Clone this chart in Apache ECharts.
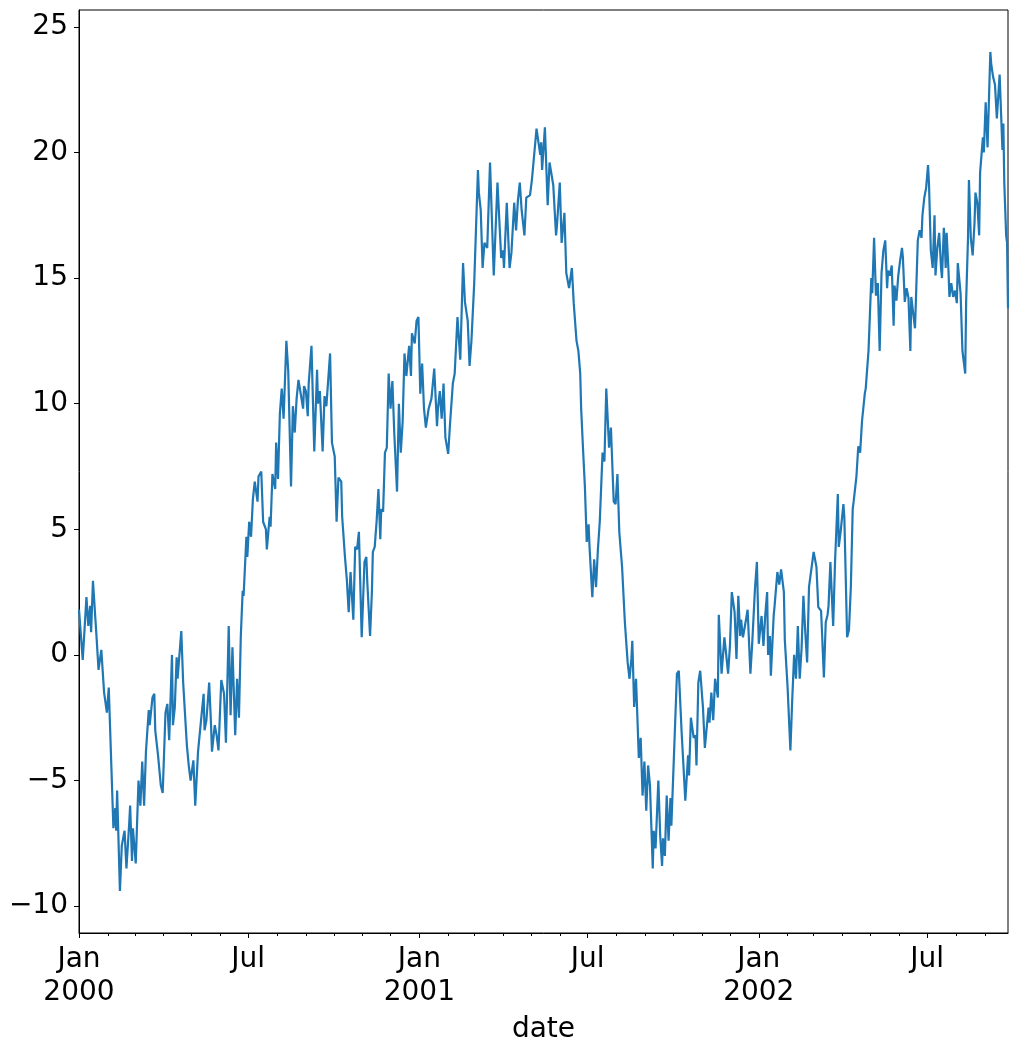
<!DOCTYPE html>
<html>
<head>
<meta charset="utf-8">
<title>random walk</title>
<script src="https://cdn.jsdelivr.net/npm/echarts@6/dist/echarts.min.js"></script>
<style>
  html, body { margin: 0; padding: 0; background: #fff; }
  #chart { width: 1018px; height: 1053px; }
</style>
</head>
<body>
<div id="chart"></div>
<script>
// Days since 2000-01-01 and the value at that day
var days = [
  0,4,8,10,12,13,15,19,21,24,27,30,32,37,39,40,41,44,46,49,51,54,55,57,58,61,
  64,66,68,70,72,75,76,79,81,82,85,88,90,93,95,97,100,101,103,105,106,110,112,116,118,120,123,125,128,131,
  134,135,137,140,142,143,146,148,150,153,156,158,161,163,165,168,170,172,174,176,177,180,181,183,185,187,189,192,193,196,198,
  201,202,205,206,208,211,212,214,216,218,220,223,225,228,230,232,234,236,238,241,242,244,246,247,250,253,256,257,259,262,264,266,
  270,272,275,277,279,282,283,286,288,290,292,295,297,299,301,304,307,309,310,313,315,316,318,320,322,324,325,327,329,331,
  333,335,337,339,342,344,346,348,350,352,355,357,358,361,363,365,367,369,371,373,376,379,382,385,386,388,390,392,394,397,399,
  402,404,407,410,413,415,418,420,422,425,429,430,432,434,436,439,442,446,450,454,456,457,460,463,465,468,470,472,
  474,476,479,481,485,487,488,492,496,497,498,501,504,506,510,513,514,517,519,522,524,527,530,532,535,537,539,540,542,544,546,
  548,549,552,554,556,558,560,563,565,567,570,572,575,577,579,581,584,587,590,592,594,595,597,599,602,604,606,608,610,612,
  614,617,618,620,623,625,627,628,630,632,634,636,637,639,643,645,648,650,652,655,656,658,661,663,664,666,668,671,673,675,677,678,680,682,
  684,687,688,691,694,696,698,700,702,705,707,709,711,712,714,717,719,722,724,727,729,731,734,736,738,740,741,743,744,747,748,751,753,755,
  758,759,762,765,767,769,771,773,775,777,779,781,783,785,787,790,792,793,795,798,799,801,803,805,806,808,811,813,816,817,819,822,823,826,
  828,830,832,833,836,838,840,842,845,846,849,852,853,855,857,859,861,863,865,867,869,870,872,874,876,877,879,881,883,885,886,888,890,892,894,895,
  897,899,902,904,906,907,909,911,913,914,916,918,920,921,923,925,927,928,930,931,932,933,935,936,938,940,942,944,945,948,950,953,954,956,957,959,
  961,963,964,966,968,969,972,973,975,977,980,981,983,985,987,990,991,993,994,995,997,998,999
];

var values = [
  1.8,-0.2,2.3,1.15,1.95,0.9,2.95,0.63,-0.6,0.2,-1.5,-2.3,-1.3,-6.9,-6.1,-7.0,-5.4,-9.4,-7.6,-7.0,-8.5,-6.7,-6.0,-8.2,-6.9,-8.3,
  -5.0,-6.0,-4.25,-6.0,-3.85,-2.2,-2.8,-1.7,-1.55,-3.0,-4.0,-5.2,-5.5,-2.3,-1.95,-3.4,0.0,-2.8,-2.1,-0.1,-0.95,0.95,-1.1,-3.6,-4.4,-5.0,-4.2,-6.0,-3.85,-2.7,
  -1.55,-3.0,-2.6,-1.1,-2.8,-3.85,-2.8,-3.2,-3.8,-1.0,-1.55,-3.5,1.15,-2.4,0.3,-3.2,-0.95,-2.5,0.75,2.55,2.35,4.7,3.9,5.3,4.7,6.2,6.9,6.1,7.1,7.3,5.3,
  5.0,4.2,5.5,5.1,7.2,6.6,8.45,7.0,9.6,10.6,9.4,12.5,11.3,6.7,9.9,8.85,10.2,10.95,11.0,9.8,10.7,10.5,9.5,10.8,12.3,8.1,11.35,10.0,10.5,8.1,10.3,9.9,
  12.0,8.45,7.9,5.3,7.06,6.9,5.5,3.9,3.0,1.7,3.3,1.4,4.3,4.2,4.9,0.7,3.7,3.9,2.9,0.75,2.55,4.1,4.3,5.3,6.6,4.6,5.8,5.7,8.05,8.25,
  11.2,9.8,10.9,8.85,6.5,10.0,8.05,9.25,12.0,11.1,12.3,11.1,12.8,12.4,13.3,13.45,10.4,11.6,9.8,9.05,9.8,10.2,11.4,9.1,9.8,10.5,9.4,10.8,8.65,8.0,9.2,
  10.8,11.2,13.45,11.75,15.6,14.05,13.3,11.5,12.5,14.8,19.3,18.4,17.7,15.4,16.4,16.2,19.6,15.1,18.8,15.8,16.1,15.4,18.0,15.4,16.0,18.0,16.9,18.1,
  18.8,17.7,16.7,18.2,18.3,18.9,19.3,20.95,19.9,20.4,19.3,21.0,17.9,19.6,18.7,16.7,17.1,18.8,16.4,17.6,15.2,14.6,15.4,14.0,12.5,12.1,11.2,9.8,8.2,6.7,4.5,
  5.2,4.3,2.3,3.8,2.7,4.2,5.3,8.05,7.7,10.6,8.25,9.05,6.1,6.0,7.2,4.9,3.5,1.3,-0.3,-0.95,-0.16,0.56,-2.07,-0.95,-4.1,-3.3,-5.6,-4.25,-6.2,-4.4,
  -5.2,-8.5,-7.0,-7.7,-5.0,-7.2,-8.4,-7.3,-8.0,-5.6,-7.4,-5.7,-6.8,-4.8,-0.75,-0.63,-3.05,-3.1,-5.8,-4.0,-4.8,-2.5,-3.3,-3.2,-4.4,-1.1,-0.63,-2.1,-3.7,-2.9,-2.1,-2.7,-1.5,-2.6,
  -0.95,-1.7,1.6,-0.75,0.7,0.0,-0.75,0.36,2.5,1.7,-0.16,2.35,0.75,1.4,0.7,1.35,1.8,-0.75,0.5,2.7,3.7,0.44,1.55,0.36,1.6,2.5,0.0,0.75,-0.83,1.55,1.95,3.3,2.8,3.4,
  2.5,0.6,-1.3,-3.8,-1.75,0.0,-0.95,1.15,-0.95,0.24,2.35,0.9,-0.3,2.7,2.7,4.1,4.1,3.5,1.9,1.75,0.9,-0.9,1.3,1.6,1.95,3.7,1.15,3.7,6.4,4.3,4.9,6.0,5.5,0.7,
  1.0,2.7,5.8,6.1,7.1,8.3,8.05,9.3,10.4,10.6,12.1,15.0,14.4,16.6,14.3,14.8,12.1,15.2,16.1,16.5,14.6,15.3,15.1,15.5,13.1,14.7,14.1,15.1,15.7,16.2,15.8,14.05,14.6,14.2,12.1,14.25,
  13.6,13.0,16.5,16.9,16.6,17.5,18.2,18.6,19.5,18.8,16.1,15.4,17.5,15.1,16.2,16.8,15.4,15.0,17.0,16.4,15.4,16.8,15.3,14.25,14.8,14.25,14.5,14.0,15.6,14.4,12.1,11.2,14.1,16.6,18.9,16.6,
  15.9,17.2,18.4,18.0,16.7,19.2,20.6,20.0,22.0,20.2,24.0,23.5,23.0,22.7,21.35,23.1,22.1,20.1,21.15,18.8,16.7,16.4,13.8
];

// Tick labels
var yTicks = [-10, -5, 0, 5, 10, 15, 20, 25];
var monthNames = ['Jan','Feb','Mar','Apr','May','Jun','Jul','Aug','Sep','Oct','Nov','Dec'];
var firstDay = 0, lastDay = 999;

function dayToTime(d) {
  return new Date(2000, 0, 1 + d).getTime();
}

// Monthly minor ticks, Jan/Jul major ticks
var minorTicks = [];
var majorTicks = [];
for (var m = 0; m < 36; m++) {
  var t = new Date(2000, m, 1).getTime();
  if (t > dayToTime(lastDay)) break;
  if (m % 6 === 0) majorTicks.push(t);
  else minorTicks.push(t);
}

var seriesData = days.map(function(d, i) {
  return [dayToTime(d), values[i]];
});

// y range with 5% margins like matplotlib
var lo = Math.min.apply(null, values);
var hi = Math.max.apply(null, values);
var pad = (hi - lo) * 0.05;

var font = 'DejaVu Sans';

var myChart = echarts.init(document.getElementById('chart'), null, { renderer: 'canvas' });

myChart.setOption({
  animation: false,
  backgroundColor: '#ffffff',
  textStyle: { fontFamily: font },
  grid: {
    left: 79, right: 10, top: 10, bottom: 120,
    show: true, borderColor: '#000', borderWidth: 1,
    containLabel: false, outerBoundsMode: 'none'
  },
  xAxis: [{
    type: 'value',
    position: 'bottom',
    min: dayToTime(firstDay),
    max: dayToTime(lastDay),
    name: 'date',
    nameLocation: 'middle',
    nameGap: 83,
    nameTextStyle: { fontSize: 28, color: '#000', fontFamily: font },
    axisLine: { show: true, onZero: false, lineStyle: { color: '#000', width: 1 } },
    axisTick: { show: true, customValues: majorTicks, length: 5, lineStyle: { color: '#000', width: 1 } },
    axisLabel: {
      customValues: majorTicks,
      fontSize: 28,
      lineHeight: 33,
      color: '#000',
      fontFamily: font,
      margin: 10,
      formatter: function(value) {
        var dt = new Date(value);
        var mon = monthNames[dt.getMonth()];
        return dt.getMonth() === 0 ? mon + '\n' + dt.getFullYear() : mon;
      }
    },
    splitLine: { show: false }
  }, {
    type: 'value',
    position: 'bottom',
    min: dayToTime(firstDay),
    max: dayToTime(lastDay),
    axisLine: { show: false, onZero: false },
    axisTick: { show: true, customValues: minorTicks, length: 3, lineStyle: { color: '#000', width: 1 } },
    axisLabel: { show: false },
    splitLine: { show: false }
  }],
  yAxis: {
    type: 'value',
    min: lo - pad,
    max: hi + pad,
    axisLine: { show: true, onZero: false, lineStyle: { color: '#000', width: 1 } },
    axisTick: { show: true, customValues: yTicks, length: 5, lineStyle: { color: '#000', width: 1 } },
    axisLabel: {
      customValues: yTicks,
      fontSize: 28,
      color: '#000',
      fontFamily: font,
      margin: 11,
      formatter: function(v) { return String(v).replace('-', '\u2212'); }
    },
    splitLine: { show: false }
  },
  series: [{
    type: 'line',
    xAxisIndex: 0,
    data: seriesData,
    showSymbol: false,
    lineStyle: { color: '#1f77b4', width: 2.2 },
    itemStyle: { color: '#1f77b4' }
  }]
});
</script>
</body>
</html>
